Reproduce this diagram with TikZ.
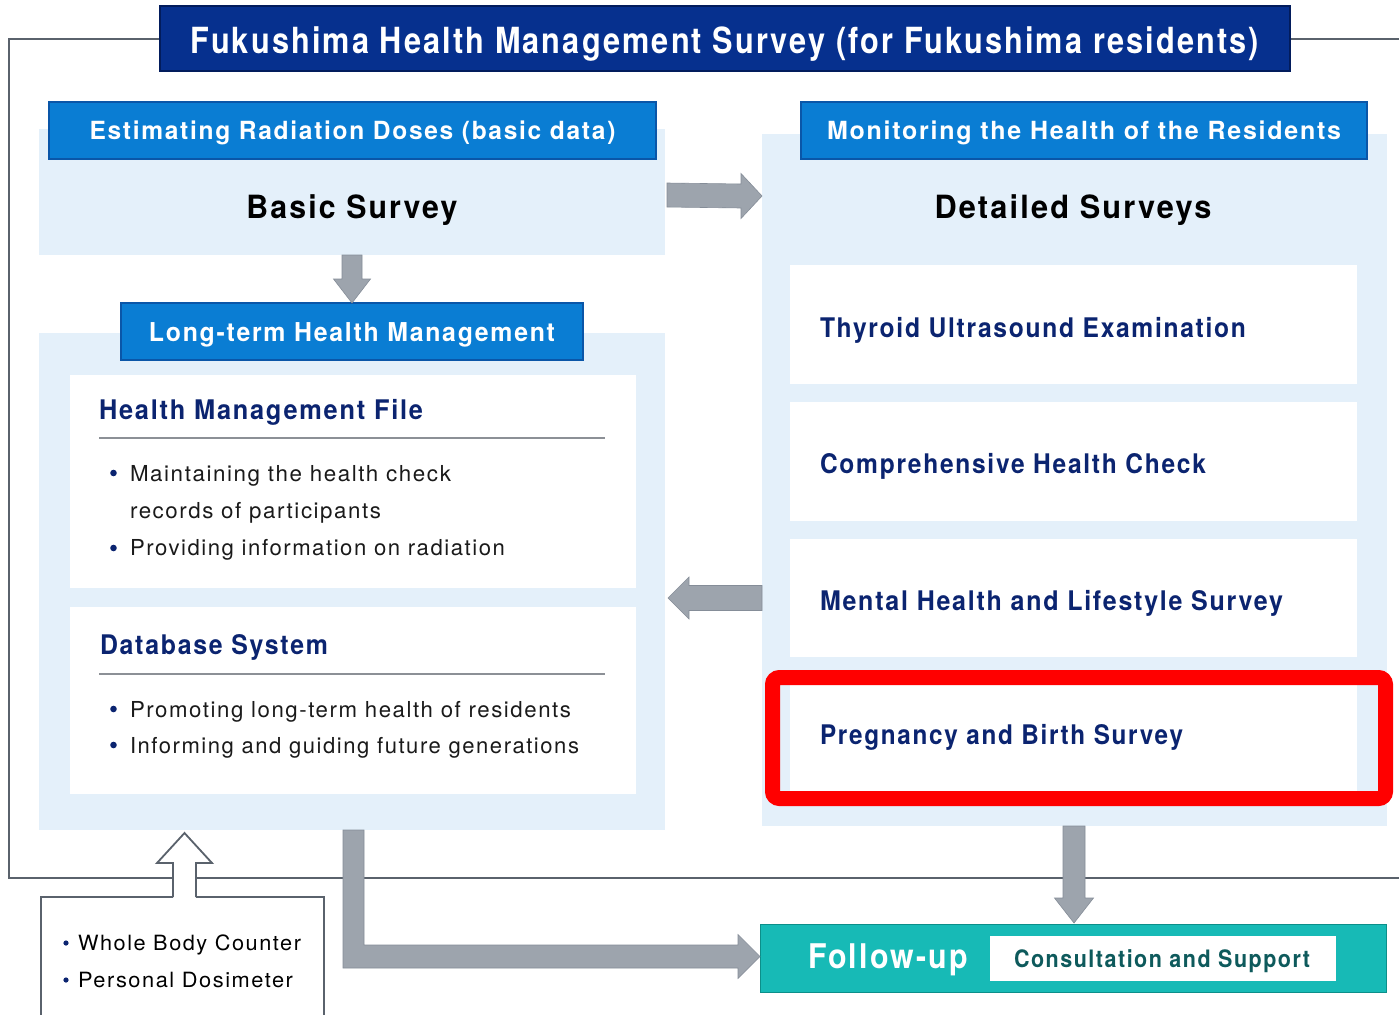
\documentclass[tikz,border=0pt]{standalone}
\usepackage{fontspec}
\setmainfont{TeX Gyre Heros}[LetterSpace=7]
\usepackage{graphicx}
\usetikzlibrary{calc}

\definecolor{navyc}{HTML}{06308E}
\definecolor{navyedge}{HTML}{021C5C}
\definecolor{hblue}{HTML}{0A7DD3}
\definecolor{hedge}{HTML}{0A56A8}
\definecolor{palec}{HTML}{E4F0FA}
\definecolor{itemc}{HTML}{0B2470}
\definecolor{bodyc}{HTML}{1A1A1A}
\definecolor{arrowg}{HTML}{9DA4AD}
\definecolor{arrowe}{HTML}{858D98}
\definecolor{frameg}{HTML}{5A626C}
\definecolor{ruleg}{HTML}{8C9096}
\definecolor{fteal}{HTML}{17BAB6}
\definecolor{ftealedge}{HTML}{0C8F8A}
\definecolor{ftealtxt}{HTML}{0E5A5C}
\definecolor{redc}{HTML}{FF0000}

\newcommand{\fitto}[2]{\resizebox{#1pt}{\height}{#2}}
\newcommand{\blkright}[5]{\draw[arrowfill] ($(#1)+(0,-#3)$) -- ($(#2)+(-#5,-#3)$) -- ($(#2)+(-#5,-#4)$) -- (#2) -- ($(#2)+(-#5,#4)$) -- ($(#2)+(-#5,#3)$) -- ($(#1)+(0,#3)$) -- cycle;}
\newcommand{\blkleft}[5]{\draw[arrowfill] ($(#1)+(0,-#3)$) -- ($(#2)+(#5,-#3)$) -- ($(#2)+(#5,-#4)$) -- (#2) -- ($(#2)+(#5,#4)$) -- ($(#2)+(#5,#3)$) -- ($(#1)+(0,#3)$) -- cycle;}
\newcommand{\blkdown}[5]{\draw[arrowfill] ($(#1)+(-#3,0)$) -- ($(#2)+(-#3,-#5)$) -- ($(#2)+(-#4,-#5)$) -- (#2) -- ($(#2)+(#4,-#5)$) -- ($(#2)+(#3,-#5)$) -- ($(#1)+(#3,0)$) -- cycle;}

\tikzset{
  rect/.style={rectangle, anchor=north west, inner sep=0pt, outer sep=0pt},
  panel/.style={rect, fill=palec},
  whitebox/.style={rect, fill=white},
  titlebox/.style={rect, fill=navyc, draw=navyedge, line width=2pt},
  hdrbox/.style={rect, fill=hblue, draw=hedge, line width=1.5pt},
  frameline/.style={draw=frameg, line width=2pt},
  ruleline/.style={draw=ruleg, line width=1.3pt},
  arrowfill/.style={fill=arrowg, draw=arrowe, line width=0.6pt, line join=miter},
  t/.style={inner sep=0pt, outer sep=0pt},
  titletxt/.style={t, anchor=base, text=white, font=\bfseries\fontsize{36}{40}\selectfont},
  hdrtxt/.style={t, anchor=base, text=white, font=\bfseries\fontsize{25}{30}\selectfont},
  bigtxt/.style={t, anchor=base, text=black, font=\bfseries\fontsize{32}{36}\selectfont},
  itemtxt/.style={t, anchor=base west, text=itemc, font=\bfseries\fontsize{27}{30}\selectfont},
  subtxt/.style={t, anchor=base west, text=itemc, font=\bfseries\fontsize{27}{30}\selectfont},
  bultxt/.style={t, anchor=base west, text=bodyc, font=\fontsize{22}{26}\selectfont},
  smalltxt/.style={t, anchor=base west, text=black, font=\fontsize{21}{25}\selectfont},
  followtxt/.style={t, anchor=base west, text=white, font=\bfseries\fontsize{34}{38}\selectfont},
  consulttxt/.style={t, anchor=base west, text=ftealtxt, font=\bfseries\fontsize{24}{28}\selectfont},
}

\begin{document}
\begin{tikzpicture}[x=1pt,y=-1pt]
\useasboundingbox (0,0) rectangle (1399,1015);
\fill[white] (0,0) rectangle (1399,1015);

% outer frame
\draw[frameline] (160,39) -- (9,39) -- (9,878) -- (1399,878);
\draw[frameline] (1290,39) -- (1399,39);

% title
\node[titlebox, minimum width=1130pt, minimum height=65pt] (title) at (160,6) {};
\node[titletxt] (titlet) at (title.center |- 0,53) {\fitto{1068}{Fukushima Health Management Survey (for Fukushima residents)}};

% panels
\node[panel, minimum width=626pt, minimum height=126pt] (bpanel) at (39,129) {};
\node[panel, minimum width=626pt, minimum height=497pt] (lpanel) at (39,333) {};
\node[panel, minimum width=625pt, minimum height=692pt] (dpanel) at (762,134) {};

% headers
\node[hdrbox, minimum width=607pt, minimum height=57pt] (esthdr) at (49,102) {};
\node[hdrtxt] (estt) at (esthdr.center |- 0,139) {\fitto{526}{Estimating Radiation Doses (basic data)}};
\node[hdrbox, minimum width=566pt, minimum height=57pt] (monhdr) at (801,102) {};
\node[hdrtxt] (mont) at (monhdr.center |- 0,139) {\fitto{514}{Monitoring the Health of the Residents}};

\node[bigtxt] (basict) at (352,218) {\fitto{211}{Basic Survey}};
\node[bigtxt] (dett) at (1073,218) {\fitto{277}{Detailed Surveys}};

% long-term header
\node[hdrbox, minimum width=462pt, minimum height=57pt] (lthdr) at (121,303) {};
\node[hdrtxt, font=\bfseries\fontsize{26}{30}\selectfont] (ltt) at (lthdr.center |- 0,341) {\fitto{406}{Long-term Health Management}};

% left white boxes
\node[whitebox, minimum width=566pt, minimum height=213pt] (hmf) at (70,375) {};
\node[subtxt] (hmft) at (99,419) {\fitto{324}{Health Management File}};
\draw[ruleline] (99,438) -- (605,438);
\fill[itemc] (113.5,473) circle (3.3pt);
\node[bultxt] (b1) at (130,481) {\fitto{321}{Maintaining the health check}};
\node[bultxt] (b2) at (130,518) {\fitto{251}{records of participants}};
\fill[itemc] (113.5,548) circle (3.3pt);
\node[bultxt] (b3) at (130,555) {\fitto{375}{Providing information on radiation}};

\node[whitebox, minimum width=566pt, minimum height=187pt] (dbs) at (70,607) {};
\node[subtxt] (dbst) at (100,654) {\fitto{228}{Database System}};
\draw[ruleline] (99,674) -- (605,674);
\fill[itemc] (113.5,709) circle (3.3pt);
\node[bultxt] (b4) at (130,717) {\fitto{441}{Promoting long-term health of residents}};
\fill[itemc] (113.5,745) circle (3.3pt);
\node[bultxt] (b5) at (130,753) {\fitto{449}{Informing and guiding future generations}};

% right white boxes
\node[whitebox, minimum width=567pt, minimum height=119pt] (thy) at (790,265) {};
\node[itemtxt] (thyt) at (820,337) {\fitto{426}{Thyroid Ultrasound Examination}};
\node[whitebox, minimum width=567pt, minimum height=119pt] (cmp) at (790,402) {};
\node[itemtxt] (cmpt) at (820,473) {\fitto{386}{Comprehensive Health Check}};
\node[whitebox, minimum width=567pt, minimum height=118pt] (mnt) at (790,539) {};
\node[itemtxt] (mntt) at (820,610) {\fitto{463}{Mental Health and Lifestyle Survey}};
\node[whitebox, minimum width=567pt, minimum height=118pt] (prg) at (790,675) {};
\node[itemtxt] (prgt) at (820,744) {\fitto{363}{Pregnancy and Birth Survey}};

% highlight
\node[rect, draw=redc, line width=15pt, rounded corners=7pt, minimum width=613pt, minimum height=121pt] (hl) at (772.5,677.5) {};

% follow-up
\node[rect, fill=fteal, draw=ftealedge, line width=1pt, minimum width=626pt, minimum height=68pt] (follow) at (760,924) {};
\node[rect, fill=white, minimum width=346pt, minimum height=45pt] (consult) at (990,936) {};
\node[followtxt] (followt) at (808,968) {\fitto{160}{Follow-up}};
\node[consulttxt] (consultt) at (1014,967) {\fitto{296}{Consultation and Support}};

% whole body box
\node[rect, minimum width=283pt, minimum height=118pt] (wbbox) at (41,897) {};
\fill[itemc] (66,943) circle (2.6pt);
\node[smalltxt] (wb1) at (78,950) {\fitto{223}{Whole Body Counter}};
\fill[itemc] (66,980) circle (2.6pt);
\node[smalltxt] (wb2) at (78,987) {\fitto{215}{Personal Dosimeter}};

% arrows
\coordinate (a1s) at ($(bpanel.east |- 0,195)+(2,0)$);
\coordinate (a1e) at (dpanel.west |- 0,196);
\blkright{a1s}{a1e}{12}{22.5}{21}

\coordinate (a2s) at (dpanel.west |- 0,598);
\coordinate (a2e) at ($(lpanel.east |- 0,598)+(3,0)$);
\blkleft{a2s}{a2e}{12.5}{21}{21}

\coordinate (a3s) at (bpanel.south);
\coordinate (a3e) at (lthdr.north);
\blkdown{a3s}{a3e}{10}{18.5}{24}

\coordinate (a4s) at (1074,0 |- dpanel.south);
\coordinate (a4e) at ($(1074,0 |- follow.north)+(0,-1)$);
\blkdown{a4s}{a4e}{11}{19.5}{25}

\coordinate (a5s) at (353.5,0 |- lpanel.south);
\coordinate (a5c) at (353.5,956.5);
\coordinate (a5e) at (follow.west |- a5c);
\draw[arrowfill] ($(a5s)+(-10.5,0)$) -- ($(a5c)+(-10.5,11.5)$) -- ($(a5e)+(-22,11.5)$) -- ($(a5e)+(-22,22)$) -- (a5e) -- ($(a5e)+(-22,-22)$) -- ($(a5e)+(-22,-11.5)$) -- ($(a5c)+(10.5,-11.5)$) -- ($(a5s)+(10.5,0)$) -- cycle;

% hollow up arrow
\coordinate (ut) at ($(184.5,0 |- lpanel.south)+(0,3)$);
\coordinate (ub) at (184.5,0 |- wbbox.north);
\fill[white] ($(ub)+(-11.5,0)$) -- ($(ut)+(-11.5,30)$) -- ($(ut)+(-27.5,30)$) -- (ut) -- ($(ut)+(27.5,30)$) -- ($(ut)+(11.5,30)$) -- ($(ub)+(11.5,0)$) -- cycle;
\draw[frameline, line width=1.8pt, line join=miter] ($(ub)+(-11.5,0)$) -- ($(ut)+(-11.5,30)$) -- ($(ut)+(-27.5,30)$) -- (ut) -- ($(ut)+(27.5,30)$) -- ($(ut)+(11.5,30)$) -- ($(ub)+(11.5,0)$);
\draw[frameline, line width=1.8pt] ($(ub)+(-11.5,0)$) -- (wbbox.north west) -- (wbbox.south west);
\draw[frameline, line width=1.8pt] ($(ub)+(11.5,0)$) -- (wbbox.north east) -- (wbbox.south east);
\end{tikzpicture}
\end{document}
